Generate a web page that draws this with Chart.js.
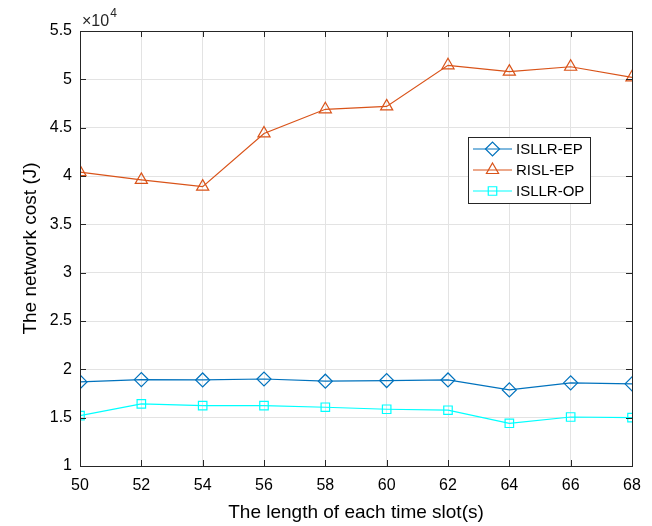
<!DOCTYPE html>
<html>
<head>
<meta charset="utf-8">
<script src="https://cdn.jsdelivr.net/npm/chart.js@4"></script>
<style>
  html, body { margin: 0; padding: 0; background: #fff; }
  #wrap { width: 652px; height: 526px; }
</style>
</head>
<body>
<div id="wrap"><canvas id="costChart" width="652" height="526"></canvas></div>
<script>
(() => {
  'use strict'

  const slotLengths = [50, 52, 54, 56, 58, 60, 62, 64, 66, 68];
  const isllrEp = [18700, 18940, 18900, 19000, 18770, 18840, 18900, 17870, 18600, 18500];
  const rislEp = [40400, 39600, 38900, 44400, 46900, 47200, 51450, 50800, 51300, 50200];
  const isllrOp = [15220, 16420, 16250, 16250, 16080, 15870, 15770, 14420, 15070, 15000];
  const xTicks = [50, 52, 54, 56, 58, 60, 62, 64, 66, 68];
  const yTicks = [10000, 15000, 20000, 25000, 30000, 35000, 40000, 45000, 50000, 55000];
  const yTickLabels = ['1', '1.5', '2', '2.5', '3', '3.5', '4', '4.5', '5', '5.5'];

  const font = 'Liberation Sans, Arial, Helvetica, sans-serif';
  const axisColor = '#262626';

  const toPoints = (vals) => vals.map((v, i) => ({ x: slotLengths[i], y: v }));

  // MATLAB-style box, inward ticks, exponent label and legend
  const matlabAxes = {
    id: 'matlabAxes',
    afterDraw(chart) {
      const { ctx, chartArea: a, scales } = chart;
      ctx.save();
      ctx.strokeStyle = axisColor;
      ctx.lineWidth = 1;
      ctx.strokeRect(a.left + 0.5, a.top + 0.5, a.right - a.left, a.bottom - a.top);
      ctx.beginPath();
      xTicks.forEach(t => {
        const x = Math.round(scales.x.getPixelForValue(t)) + 0.5;
        ctx.moveTo(x, a.bottom); ctx.lineTo(x, a.bottom - 6);
        ctx.moveTo(x, a.top); ctx.lineTo(x, a.top + 6);
      });
      yTicks.forEach(t => {
        const y = Math.round(scales.y.getPixelForValue(t)) + 0.5;
        ctx.moveTo(a.left, y); ctx.lineTo(a.left + 6, y);
        ctx.moveTo(a.right, y); ctx.lineTo(a.right - 6, y);
      });
      ctx.stroke();

      // x10^4 label
      ctx.fillStyle = axisColor;
      ctx.textBaseline = 'alphabetic';
      ctx.textAlign = 'left';
      ctx.font = '16px ' + font;
      ctx.fillText('\u00d710', a.left + 2, a.top - 5);
      const w = ctx.measureText('\u00d710').width;
      ctx.font = '12px ' + font;
      ctx.fillText('4', a.left + 2 + w + 1, a.top - 14);

      // legend
      const lx = 468, ly = 137, lw = 122, lh = 66;
      ctx.fillStyle = '#fff';
      ctx.fillRect(lx, ly, lw, lh);
      ctx.strokeStyle = axisColor;
      ctx.lineWidth = 1;
      ctx.strokeRect(lx + 0.5, ly + 0.5, lw, lh);
      chart.data.datasets.forEach((ds, i) => {
        const y = ly + 12 + i * 21;
        ctx.strokeStyle = ds.borderColor;
        ctx.lineWidth = 1.2;
        ctx.beginPath();
        ctx.moveTo(lx + 5, y); ctx.lineTo(lx + 44, y);
        ctx.stroke();
        ctx.fillStyle = 'rgba(0,0,0,0)';
        Chart.helpers.drawPoint(ctx, {
          pointStyle: ds.pointStyle,
          radius: ds.pointRadius,
          borderWidth: 1.2
        }, lx + 24.5, y);
        ctx.fillStyle = '#000';
        ctx.font = '15px ' + font;
        ctx.textBaseline = 'middle';
        ctx.fillText(ds.label, lx + 48, y + 1);
      });
      ctx.restore();
    }
  };

  const ctx1 = document.getElementById('costChart');
  const costChart = new Chart(ctx1, {
    type: 'line',
    data: {
      datasets: [{
        label: 'ISLLR-EP',
        data: toPoints(isllrEp),
        borderColor: '#0072BD',
        backgroundColor: 'transparent',
        borderWidth: 1.2,
        pointStyle: 'rectRot',
        pointRadius: 7,
        pointBorderWidth: 1.2,
        pointBackgroundColor: 'transparent'
      }, {
        label: 'RISL-EP',
        data: toPoints(rislEp),
        borderColor: '#D95319',
        backgroundColor: 'transparent',
        borderWidth: 1.2,
        pointStyle: 'triangle',
        pointRadius: 7,
        pointBorderWidth: 1.2,
        pointBackgroundColor: 'transparent'
      }, {
        label: 'ISLLR-OP',
        data: toPoints(isllrOp),
        borderColor: '#00FFFF',
        backgroundColor: 'transparent',
        borderWidth: 1.2,
        pointStyle: 'rect',
        pointRadius: 6,
        pointBorderWidth: 1.2,
        pointBackgroundColor: 'transparent'
      }]
    },
    options: {
      responsive: false,
      animation: false,
      layout: { padding: { left: 0, right: 20, top: 31, bottom: 0 } },
      scales: {
        x: {
          type: 'linear',
          min: 50,
          max: 68,
          afterBuildTicks: (s) => { s.ticks = xTicks.map(v => ({ value: v })); },
          afterFit: (s) => { s.height = 60; },
          grid: { color: '#e3e3e3', drawTicks: false },
          border: { display: false },
          ticks: { color: '#000', padding: 10, font: { family: font, size: 16 } },
          title: {
            display: true,
            text: 'The length of each time slot(s)',
            color: '#000',
            padding: { top: 0, bottom: 2 },
            font: { family: font, size: 19 }
          }
        },
        y: {
          min: 10000,
          max: 55000,
          afterBuildTicks: (s) => { s.ticks = yTicks.map(v => ({ value: v })); },
          afterFit: (s) => { s.width = 80; },
          grid: { color: '#e3e3e3', drawTicks: false },
          border: { display: false },
          ticks: {
            color: '#000',
            padding: 8,
            font: { family: font, size: 16 },
            callback: (v) => yTickLabels[yTicks.indexOf(v)]
          },
          title: {
            display: true,
            text: 'The network cost (J)',
            color: '#000',
            padding: { top: 19, bottom: 0 },
            font: { family: font, size: 19 }
          }
        }
      },
      plugins: {
        legend: { display: false },
        tooltip: { enabled: false }
      }
    },
    plugins: [matlabAxes]
  });

})();
</script>
</body>
</html>
